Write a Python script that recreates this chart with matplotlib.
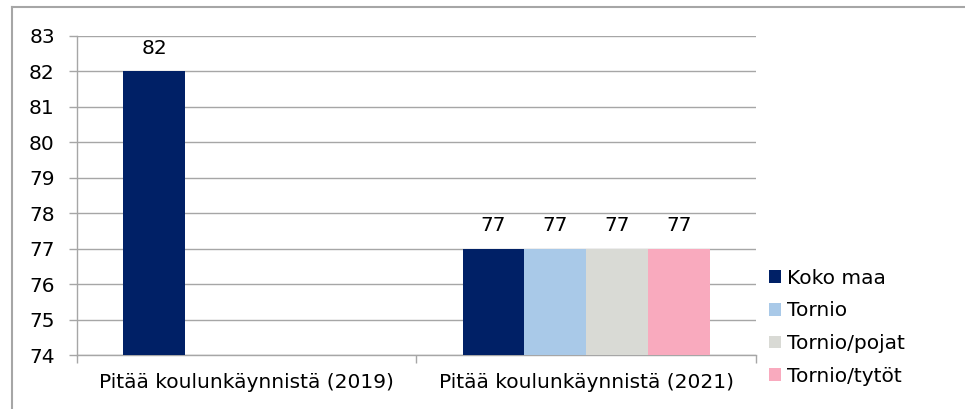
import numpy as np
import matplotlib
matplotlib.use("Agg")
import matplotlib.pyplot as plt
from matplotlib.lines import Line2D

# chart data
categories = ["Pitää koulunkäynnistä (2019)", "Pitää koulunkäynnistä (2021)"]
series_names = ["Koko maa", "Tornio", "Tornio/pojat", "Tornio/tytöt"]
koko_maa = [82, 77]
tornio = [np.nan, 77]
tornio_pojat = [np.nan, 77]
tornio_tytot = [np.nan, 77]
colors = ["#002066", "#A9C9E8", "#D9DAD5", "#F9AABE"]
y_ticks = list(range(74, 84))

plt.rcParams["font.family"] = ["DejaVu Sans"]
FS = 14.5

fig = plt.figure(figsize=(9.65, 4.09), dpi=100)
ax = fig.add_axes([0.0798, 0.132, 0.7035, 0.780])

x = np.arange(len(categories))
w = 0.182
all_series = [koko_maa, tornio, tornio_pojat, tornio_tytot]
for i, (name, vals, col) in enumerate(zip(series_names, all_series, colors)):
    vals = np.array(vals, dtype=float)
    bars = ax.bar(x + (i - 1.5) * w, np.where(np.isnan(vals), 0, vals),
                  w, color=col, label=name, zorder=3)
    labels = ["" if np.isnan(v) else f"{v:.0f}" for v in vals]
    ax.bar_label(bars, labels=labels, padding=10, fontsize=FS)

ax.set_ylim(74, 83)
ax.set_xlim(-0.5, 1.5)
ax.set_yticks(y_ticks)
ax.yaxis.grid(True, color="#A6A6A6", linewidth=1)
ax.set_axisbelow(True)

ax.set_xticks(x)
ax.set_xticklabels(categories, fontsize=FS)
ax.set_xticks([-0.5, 0.5, 1.5], minor=True)
ax.tick_params(axis="x", which="major", length=0, pad=13)
ax.tick_params(axis="x", which="minor", length=6, color="#A6A6A6", width=1)
ax.tick_params(axis="y", labelsize=FS, length=6, color="#A6A6A6", width=1, pad=10)

for s in ["top", "right"]:
    ax.spines[s].set_visible(False)
for s in ["left", "bottom"]:
    ax.spines[s].set_color("#A6A6A6")
    ax.spines[s].set_linewidth(1)

ax.legend(loc="center left", bbox_to_anchor=(0.797, 0.200), bbox_transform=fig.transFigure,
          frameon=False, fontsize=FS, handlelength=0.6, handleheight=0.6,
          handletextpad=0.3, labelspacing=0.68, borderaxespad=0, borderpad=0)

# outer chart border (only top and left visible in the crop)
fig.add_artist(Line2D([0.0124, 0.0124], [0.983, -0.1], color="#A6A6A6", lw=1.5,
                      transform=fig.transFigure))
fig.add_artist(Line2D([0.0124, 1.1], [0.983, 0.983], color="#A6A6A6", lw=1.5,
                      transform=fig.transFigure))

fig.savefig("out.png", dpi=100)
